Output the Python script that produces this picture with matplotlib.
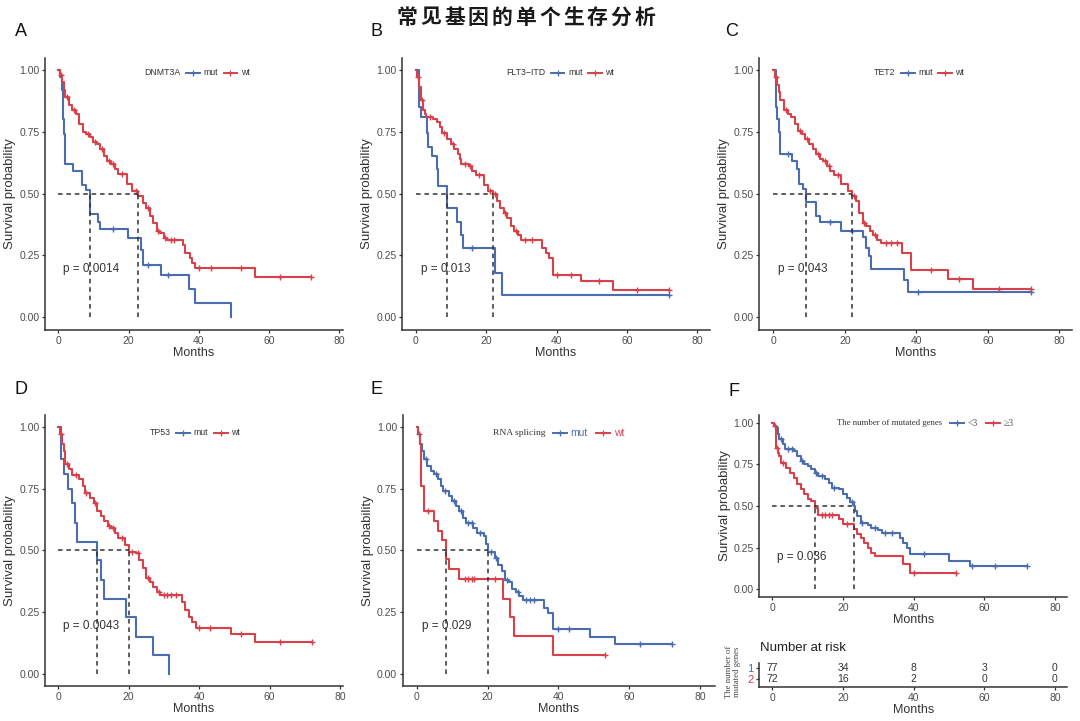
import numpy as np
import matplotlib
matplotlib.use('Agg')
import matplotlib.pyplot as plt
from matplotlib.lines import Line2D
from matplotlib.ticker import FormatStrFormatter
from matplotlib.offsetbox import TextArea, DrawingArea, HPacker, AnchoredOffsetbox

plt.rcParams['font.family'] = ['Liberation Sans', 'DejaVu Sans']

BLUE = '#4a6db0'
RED = '#d8404a'
DARK = '#333333'

# ---- A: DNMT3A ----
A_mut_t = [0, 0.5, 1.0, 1.2, 1.5, 2.0, 4.1, 6.8, 7.9, 9.0, 11.2, 11.9, 19.9, 23.5, 24.0, 29.1, 37.2, 39.0, 49.1]
A_mut_s = [1.0, 0.97, 0.92, 0.80, 0.74, 0.62, 0.59, 0.535, 0.515, 0.415, 0.385, 0.355, 0.32, 0.27, 0.21, 0.17, 0.115, 0.057, 0.0]
A_mut_c = [15.6, 25.6, 31.1]
A_wt_t = [0, 0.5, 1, 1.5, 2, 3, 4, 5, 6, 7, 8, 9, 10, 11, 12, 13, 14, 15, 16, 17, 19.5, 21, 22.6, 24, 25, 26, 27, 28, 29, 30, 31, 35.5, 36, 37.5, 38, 39, 56, 72]
A_wt_s = [1.0, 0.98, 0.95, 0.92, 0.89, 0.86, 0.84, 0.82, 0.78, 0.75, 0.74, 0.73, 0.71, 0.70, 0.68, 0.65, 0.63, 0.62, 0.60, 0.58, 0.54, 0.51, 0.49, 0.46, 0.44, 0.41, 0.38, 0.35, 0.34, 0.32, 0.31, 0.29, 0.26, 0.24, 0.22, 0.20, 0.16, 0.16]
A_wt_c = [0.8, 2.5, 4.5, 8.5, 10.5, 12.5, 14.5, 15.5, 18, 22, 25.5, 28.5, 30.5, 32, 33, 40, 43.5, 52, 63, 72]

# ---- B: FLT3-ITD ----
B_mut_t = [0, 0.8, 1.5, 3.1, 3.5, 4.5, 6.0, 6.3, 9.0, 11.8, 12.8, 13.3, 22.5, 24.4, 72]
B_mut_s = [1.0, 0.85, 0.81, 0.745, 0.69, 0.65, 0.60, 0.53, 0.44, 0.385, 0.33, 0.28, 0.18, 0.09, 0.09]
B_mut_c = [15.9, 72]
B_wt_t = [0, 0.5, 1, 1.5, 2, 2.5, 3, 5, 6, 7, 7.5, 9, 10, 11, 12, 12.5, 13, 15, 16, 17, 19.5, 20.5, 22, 23, 24, 25, 26, 27, 28, 29, 30, 36, 37, 38, 39, 47, 56, 72]
B_wt_s = [1.0, 0.97, 0.93, 0.88, 0.84, 0.82, 0.81, 0.80, 0.79, 0.77, 0.745, 0.72, 0.70, 0.68, 0.66, 0.64, 0.62, 0.61, 0.59, 0.575, 0.535, 0.51, 0.50, 0.47, 0.44, 0.42, 0.40, 0.37, 0.35, 0.33, 0.31, 0.28, 0.26, 0.24, 0.17, 0.145, 0.11, 0.11]
B_wt_c = [0.7, 1.8, 4, 8, 10.5, 14, 15.5, 18, 21, 22.5, 25.5, 28.5, 31, 33, 40, 44, 52, 63, 72]

# ---- C: TET2 ----
C_mut_t = [0, 0.8, 1.0, 1.5, 1.9, 5.1, 6.7, 7.3, 8.4, 9.1, 11.9, 13.1, 18.8, 25.0, 25.9, 26.7, 27.3, 36.6, 37.8, 72]
C_mut_s = [1.0, 0.85, 0.80, 0.75, 0.66, 0.63, 0.60, 0.54, 0.52, 0.465, 0.41, 0.385, 0.35, 0.325, 0.28, 0.245, 0.195, 0.15, 0.10, 0.10]
C_mut_c = [4.2, 15.9, 22.0, 40.4, 72]
C_wt_t = [0, 0.5, 1, 1.5, 2, 3, 4, 5, 6, 7, 8, 9, 10, 11, 12, 13, 14, 15, 16, 17, 19, 21, 22, 23, 24, 25, 26, 27, 28, 29, 30, 36, 38.5, 49, 56, 72]
C_wt_s = [1.0, 0.97, 0.94, 0.91, 0.88, 0.84, 0.82, 0.81, 0.78, 0.755, 0.74, 0.72, 0.70, 0.68, 0.66, 0.64, 0.63, 0.61, 0.59, 0.575, 0.54, 0.51, 0.49, 0.47, 0.42, 0.38, 0.37, 0.35, 0.33, 0.31, 0.30, 0.26, 0.19, 0.155, 0.115, 0.115]
C_wt_c = [0.7, 3.5, 7.5, 9.5, 12.5, 14.5, 15.5, 18, 22.5, 25.5, 28.5, 31.5, 33, 34.5, 44, 52, 63, 72]

# ---- D: TP53 ----
D_mut_t = [0, 0.8, 1.5, 2.8, 3.8, 4.7, 5.3, 11.1, 12.0, 13.0, 19.1, 22.0, 27.0, 31.3]
D_mut_s = [1.0, 0.87, 0.81, 0.75, 0.69, 0.61, 0.535, 0.46, 0.38, 0.305, 0.23, 0.15, 0.075, 0.0]
D_mut_c = []
D_wt_t = [0, 0.5, 1, 1.5, 2, 3, 4, 6, 7, 7.5, 9, 10, 11, 12, 13, 14, 15, 16, 17, 19, 20, 22, 23, 24, 25, 26, 27, 28, 29, 35, 36, 37, 38, 39, 49, 56, 72]
D_wt_s = [1.0, 0.97, 0.93, 0.90, 0.85, 0.83, 0.805, 0.79, 0.76, 0.73, 0.71, 0.69, 0.66, 0.64, 0.62, 0.60, 0.59, 0.57, 0.55, 0.52, 0.495, 0.49, 0.46, 0.43, 0.39, 0.37, 0.35, 0.33, 0.32, 0.29, 0.26, 0.23, 0.21, 0.185, 0.16, 0.13, 0.13]
D_wt_c = [0.7, 2.5, 5, 8, 10.5, 14.5, 15.5, 18, 21, 22.5, 25.5, 28.5, 30, 31, 32, 33.5, 40, 43, 52, 63, 72]

# ---- E: RNA splicing ----
E_mut_t = [0, 0.5, 1, 1.5, 2, 3, 4, 5, 6, 7, 7.5, 9, 10, 11, 12, 13, 14, 16, 17, 19, 19.5, 20.2, 22, 23, 24, 25, 26, 27, 28, 29, 30, 36, 37, 38.5, 49, 56, 72]
E_mut_s = [1.0, 0.97, 0.93, 0.90, 0.87, 0.84, 0.82, 0.81, 0.79, 0.76, 0.74, 0.72, 0.70, 0.68, 0.66, 0.63, 0.61, 0.59, 0.57, 0.56, 0.525, 0.495, 0.47, 0.44, 0.415, 0.38, 0.37, 0.345, 0.33, 0.315, 0.30, 0.265, 0.245, 0.18, 0.15, 0.12, 0.12]
E_mut_c = [0.7, 2.5, 5.5, 8, 10.5, 12.5, 14.5, 15.5, 18, 21, 22.5, 25.5, 28.5, 31, 32, 33, 40, 43, 63, 72]
E_wt_t = [0, 0.4, 0.8, 1.2, 2.2, 5.0, 6.1, 7.1, 8.2, 9.2, 12.0, 24.3, 26.4, 27.6, 38.4, 53.2]
E_wt_s = [1.0, 0.97, 0.93, 0.76, 0.66, 0.62, 0.58, 0.54, 0.465, 0.425, 0.385, 0.305, 0.23, 0.155, 0.077, 0.077]
E_wt_c = [3.3, 13.6, 14.6, 15.5, 16.1, 22, 53.2]

# ---- F: number of mutated genes ----
F_lo_t = [0, 0.5, 1, 1.5, 2, 3, 3.5, 6, 7, 8, 9, 10, 11, 12, 13, 15, 16, 17, 19, 20, 21, 22, 23, 23.5, 24, 25, 26, 27, 28, 30, 31, 36, 37, 38, 39, 50, 56, 72]
F_lo_s = [1.0, 0.98, 0.97, 0.93, 0.90, 0.87, 0.84, 0.83, 0.80, 0.77, 0.75, 0.74, 0.72, 0.70, 0.68, 0.66, 0.64, 0.61, 0.60, 0.575, 0.55, 0.525, 0.50, 0.47, 0.44, 0.40, 0.395, 0.385, 0.37, 0.355, 0.335, 0.31, 0.28, 0.25, 0.21, 0.17, 0.14, 0.14]
F_lo_c = [0.8, 2.5, 4.5, 5.5, 8.5, 12.5, 14, 17.5, 22.5, 25.5, 29, 32, 34, 43, 56.5, 63, 72]
F_hi_t = [0, 0.5, 1, 1.5, 2, 2.5, 4, 5, 6, 7, 8, 9, 10, 11, 12, 13, 19, 20, 23, 24, 25, 26, 27, 28, 29, 37, 39, 52]
F_hi_s = [1.0, 0.98, 0.85, 0.82, 0.80, 0.76, 0.73, 0.70, 0.67, 0.63, 0.60, 0.57, 0.54, 0.53, 0.485, 0.445, 0.42, 0.39, 0.36, 0.33, 0.31, 0.28, 0.25, 0.22, 0.20, 0.15, 0.10, 0.10]
F_hi_c = [1.3, 3, 14, 15, 16, 17, 21, 40, 52]

risk_times = [0, 20, 40, 60, 80]
risk_lo = [77, 34, 8, 3, 0]
risk_hi = [72, 16, 2, 0, 0]

pvals = ['p = 0.0014', 'p = 0.013', 'p = 0.043', 'p = 0.0043', 'p = 0.029', 'p = 0.036']
title = '常见基因的单个生存分析'

W, H = 1080, 721
fig = plt.figure(figsize=(W / 100, H / 100), dpi=100)


def make_ax(left, right, top, bottom, x0, x80, y1, y0):
    ax = fig.add_axes([left / W, 1 - bottom / H, (right - left) / W, (bottom - top) / H])
    sx = (x80 - x0) / 80.0
    sy = y0 - y1
    ax.set_xlim((left - x0) / sx, (right - x0) / sx)
    ax.set_ylim((y0 - bottom) / sy, (y0 - top) / sy)
    for sp in ['top', 'right']:
        ax.spines[sp].set_visible(False)
    for sp in ['left', 'bottom']:
        ax.spines[sp].set_color(DARK)
        ax.spines[sp].set_linewidth(1.1)
    ax.set_xticks([0, 20, 40, 60, 80])
    ax.tick_params(colors=DARK, labelcolor='#4d4d4d', labelsize=7.5, length=2.5, width=0.9, pad=1.5)
    return ax


def draw_curves(ax, curves, pval):
    meds = []
    for t, s, c, col in curves:
        t = np.asarray(t, float)
        s = np.asarray(s, float)
        ax.step(t, s, where='post', color=col, lw=1.5)
        c = np.asarray(c, float)
        if len(c):
            cy = s[np.searchsorted(t, c, side='right') - 1]
            ax.plot(c, cy, ls='none', marker='+', ms=4.5, mew=1.0, color=col)
        meds.append(t[np.argmax(s <= 0.5)])
    dash = (0, (3, 2.5))
    ax.plot([0, max(meds)], [0.5, 0.5], ls=dash, color=DARK, lw=1.1)
    for m in meds:
        ax.plot([m, m], [0, 0.5], ls=dash, color=DARK, lw=1.1)
    ax.set_yticks([0, 0.25, 0.5, 0.75, 1.0])
    ax.yaxis.set_major_formatter(FormatStrFormatter('%.2f'))
    ax.set_xlabel('Months', fontsize=9, color=DARK, labelpad=1)
    ax.set_ylabel('Survival probability', fontsize=9.5, color=DARK, labelpad=2)
    ax.text(1.4, 0.195, pval, fontsize=8.5, color=DARK, ha='left', va='center')


def key_box(col):
    da = DrawingArea(10, 6, 0, 0)
    da.add_artist(Line2D([0, 10], [3, 3], color=col, lw=1.4))
    da.add_artist(Line2D([5], [3], color=col, marker='+', ms=4, mew=0.9))
    return da


def add_legend(ax, title, labels, cx, cy, tprops, lprops, lcolors, gap=4):
    items = [TextArea(title, textprops=tprops)]
    for lab, col, lc in zip(labels, [BLUE, RED], lcolors):
        pair = HPacker(children=[key_box(col), TextArea(lab, textprops=dict(lprops, color=lc))],
                       align='center', pad=0, sep=2.5)
        items.append(pair)
    box = HPacker(children=items, align='center', pad=0, sep=gap)
    ab = AnchoredOffsetbox(loc='center', child=box, pad=0, borderpad=0, frameon=False,
                           bbox_to_anchor=(cx, cy), bbox_transform=ax.transAxes)
    ax.add_artist(ab)


sans7 = dict(fontsize=6.3, color=DARK, family=['Liberation Sans', 'DejaVu Sans'])
serif7 = dict(fontsize=6.8, color=DARK, family=['Liberation Serif', 'DejaVu Serif'])

axA = make_ax(45, 343, 58, 330, 58.3, 339.3, 70, 317)
draw_curves(axA, [(A_mut_t, A_mut_s, A_mut_c, BLUE), (A_wt_t, A_wt_s, A_wt_c, RED)], pvals[0])
add_legend(axA, 'DNMT3A', ['mut', 'wt'], 0.51, 0.945, sans7, sans7, [DARK, DARK])

axB = make_ax(402, 710, 58, 330, 415.7, 697.3, 70, 317)
draw_curves(axB, [(B_mut_t, B_mut_s, B_mut_c, BLUE), (B_wt_t, B_wt_s, B_wt_c, RED)], pvals[1])
add_legend(axB, 'FLT3\u2212ITD', ['mut', 'wt'], 0.513, 0.945, sans7, sans7, [DARK, DARK])

axC = make_ax(759, 1072, 58, 330, 773.3, 1059.3, 70, 317)
draw_curves(axC, [(C_mut_t, C_mut_s, C_mut_c, BLUE), (C_wt_t, C_wt_s, C_wt_c, RED)], pvals[2])
add_legend(axC, 'TET2', ['mut', 'wt'], 0.511, 0.945, sans7, sans7, [DARK, DARK])

axD = make_ax(45, 343, 415, 686, 58.3, 340, 426.7, 674)
draw_curves(axD, [(D_mut_t, D_mut_s, D_mut_c, BLUE), (D_wt_t, D_wt_s, D_wt_c, RED)], pvals[3])
add_legend(axD, 'TP53', ['mut', 'wt'], 0.503, 0.934, sans7, sans7, [DARK, DARK])

axE = make_ax(402.7, 715, 415, 686, 416.7, 700, 426.7, 674)
draw_curves(axE, [(E_mut_t, E_mut_s, E_mut_c, BLUE), (E_wt_t, E_wt_s, E_wt_c, RED)], pvals[4])
add_legend(axE, 'RNA splicing', ['mut', 'wt'], 0.498, 0.934, serif7,
           dict(fontsize=7.5, family=['Liberation Sans', 'DejaVu Sans']), [BLUE, RED], gap=6)

axF = make_ax(759.3, 1067, 415, 597, 772.3, 1055, 422.7, 589.3)
draw_curves(axF, [(F_lo_t, F_lo_s, F_lo_c, BLUE), (F_hi_t, F_hi_s, F_hi_c, RED)], pvals[5])
add_legend(axF, 'The number of mutated genes', ['<3', '\u22653'], 0.54, 0.956,
           dict(serif7, fontsize=6.3), dict(fontsize=7, family=['Liberation Serif', 'DejaVu Serif']),
           ['#555555', '#555555'], gap=6)

# risk table
axR = make_ax(759.3, 1067, 663, 687, 772.3, 1055, 0, 1)
axR.set_ylim(2.727, 0.545)
axR.set_yticks([1, 2])
axR.set_yticklabels(['1', '2'])
for lab, col in zip(axR.get_yticklabels(), [BLUE, RED]):
    lab.set_color(col)
    lab.set_fontsize(8)
for x, lo, hi in zip(risk_times, risk_lo, risk_hi):
    axR.text(x, 1, str(lo), ha='center', va='center', fontsize=7.5, color=DARK)
    axR.text(x, 2, str(hi), ha='center', va='center', fontsize=7.5, color=DARK)
axR.set_xlabel('Months', fontsize=9, color=DARK, labelpad=1)
fig.text(760 / W, 1 - 648 / H, 'Number at risk', fontsize=9.5, color='#222222', ha='left', va='center')
fig.text(733 / W, 1 - 672 / H, 'The number of\nmutated genes', rotation=90, fontsize=6.3,
         color='#444444', ha='center', va='center', linespacing=1.0,
         family=['Liberation Serif', 'DejaVu Serif'])

# panel letters and title
for lab, x, y in [('A', 21, 32), ('B', 377, 32), ('C', 732, 32),
                  ('D', 21, 389), ('E', 377, 389), ('F', 734, 391)]:
    fig.text(x / W, 1 - y / H, lab, fontsize=13, color='#111111', ha='center', va='center')

# title, one glyph at a time for the wide letter spacing
step = 23.8
start = 526 - step * (len(title) - 1) / 2
for i, ch in enumerate(title):
    fig.text((start + i * step) / W, 1 - 17 / H, ch, fontsize=15, fontweight='bold',
             ha='center', va='center', color='#1a1a1a',
             family=['Noto Sans CJK SC', 'DejaVu Sans'])

fig.savefig('out.png', dpi=100)
